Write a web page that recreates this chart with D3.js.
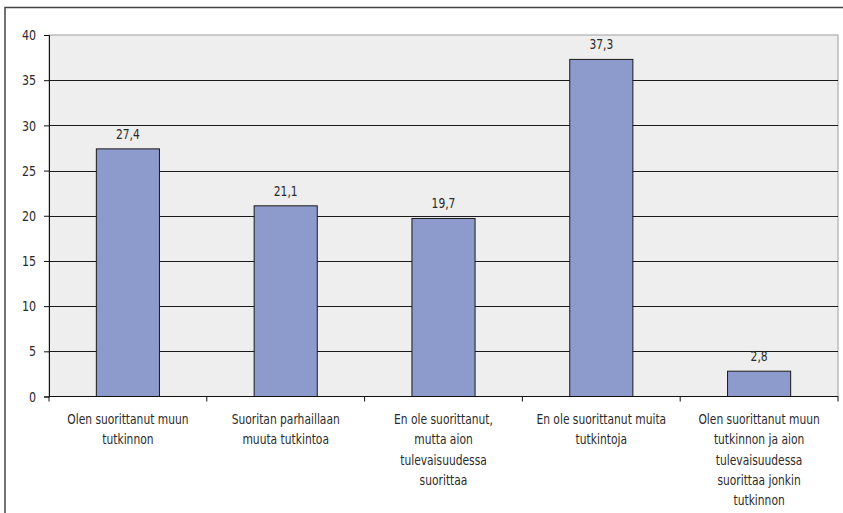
<!DOCTYPE html>
<html>
<head>
<meta charset="utf-8">
<script src="https://cdn.jsdelivr.net/npm/d3@7"></script>
<style>
  html, body { margin: 0; padding: 0; background: #fff; }
  svg { display: block; }
  text { font-family: "DejaVu Sans Condensed", "Liberation Sans Narrow", sans-serif; fill: #2a2a2a; }
</style>
</head>
<body>
<svg id="chart" width="843" height="513"></svg>
<script>
// Answer categories (each entry is a list of wrapped label lines)
const categories = [
  ["Olen suorittanut muun", "tutkinnon"],
  ["Suoritan parhaillaan", "muuta tutkintoa"],
  ["En ole suorittanut,", "mutta aion", "tulevaisuudessa", "suorittaa"],
  ["En ole suorittanut muita", "tutkintoja"],
  ["Olen suorittanut muun", "tutkinnon ja aion", "tulevaisuudessa", "suorittaa jonkin", "tutkinnon"]
];
// Share of respondents, %
const values = [27.4, 21.1, 19.7, 37.3, 2.8];
const valueLabels = ["27,4", "21,1", "19,7", "37,3", "2,8"];
const yTicks = [0, 5, 10, 15, 20, 25, 30, 35, 40];

const squeeze = 0.85; // narrow the type horizontally
const svg = d3.select("#chart");
const plot = { left: 49, top: 35, right: 838, bottom: 396.5 };

// Outer frame
svg.append("rect")
  .attr("x", 5).attr("y", 7.5)
  .attr("width", 850).attr("height", 520)
  .attr("fill", "none").attr("stroke", "#444").attr("stroke-width", 1.5);

const x = d3.scaleBand()
  .domain(d3.range(categories.length))
  .range([plot.left, plot.right])
  .padding(0);

const y = d3.scaleLinear().domain([0, 40]).range([plot.bottom, plot.top]);

// Plot background
svg.append("rect")
  .attr("x", plot.left).attr("y", plot.top)
  .attr("width", plot.right - plot.left).attr("height", plot.bottom - plot.top)
  .attr("fill", "#edeeed").attr("stroke", "#a0a0a0").attr("stroke-width", 1);

// Gridlines
svg.append("g").selectAll("line")
  .data(yTicks.filter(d => d > 0 && d < 40))
  .join("line")
  .attr("x1", plot.left).attr("x2", plot.right)
  .attr("y1", d => Math.round(y(d)) + 0.5).attr("y2", d => Math.round(y(d)) + 0.5)
  .attr("stroke", "#1a1a1a").attr("stroke-width", 1);

// Y axis
const yAxis = d3.axisLeft(y).tickValues(yTicks).tickSize(5).tickPadding(7).tickFormat(d3.format("d"));
const gy = svg.append("g").attr("transform", `translate(${plot.left},0)`).call(yAxis);
gy.select(".domain").attr("stroke", "#111");
gy.selectAll(".tick line").attr("stroke", "#111");
gy.selectAll(".tick text")
  .style("font-family", "\"DejaVu Sans Condensed\", sans-serif")
  .style("font-size", "14.5px").attr("fill", "#2a2a2a")
  .attr("x", -13 / squeeze)
  .attr("transform", `scale(${squeeze},1)`);

// Bars
const barW = x.bandwidth() * 0.4;
svg.append("g").selectAll("rect")
  .data(values)
  .join("rect")
  .attr("x", (d, i) => x(i) + (x.bandwidth() - barW) / 2)
  .attr("y", d => y(d))
  .attr("width", barW)
  .attr("height", d => y(0) - y(d))
  .attr("fill", "#8c9acc")
  .attr("stroke", "#1a1a1a")
  .attr("stroke-width", 1);

// Value labels
svg.append("g").selectAll("text")
  .data(values)
  .join("text")
  .attr("transform", (d, i) => `translate(${x(i) + x.bandwidth() / 2},${y(d) - 10}) scale(${squeeze},1)`)
  .attr("text-anchor", "middle")
  .style("font-size", "14px")
  .text((d, i) => valueLabels[i]);

// X axis line and ticks at category boundaries
svg.append("line")
  .attr("x1", plot.left).attr("x2", plot.right)
  .attr("y1", plot.bottom).attr("y2", plot.bottom)
  .attr("stroke", "#111").attr("stroke-width", 1.2);
svg.append("g").selectAll("line")
  .data(d3.range(categories.length + 1))
  .join("line")
  .attr("x1", i => i < categories.length ? x(i) : plot.right)
  .attr("x2", i => i < categories.length ? x(i) : plot.right)
  .attr("y1", plot.bottom).attr("y2", plot.bottom + 5)
  .attr("stroke", "#111");

// Category labels
const lab = svg.append("g").selectAll("text")
  .data(categories)
  .join("text")
  .attr("transform", (d, i) => `translate(${x(i) + x.bandwidth() / 2},424) scale(${squeeze},1)`)
  .attr("text-anchor", "middle")
  .style("font-size", "14px");
lab.selectAll("tspan")
  .data(d => d)
  .join("tspan")
  .attr("x", 0)
  .attr("y", (d, j) => j * 20.3)
  .text(d => d);
</script>
</body>
</html>
